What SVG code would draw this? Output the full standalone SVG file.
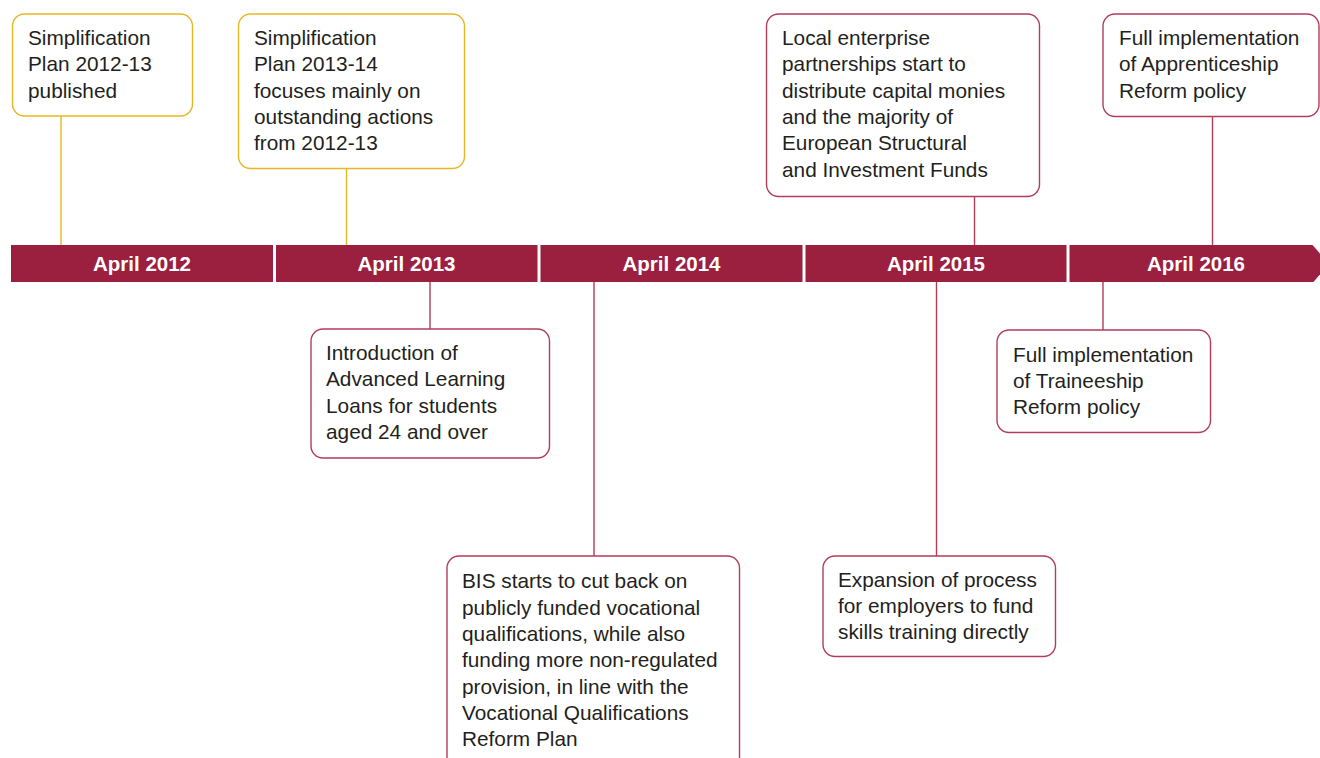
<svg xmlns="http://www.w3.org/2000/svg" width="1320" height="758" viewBox="0 0 1320 758">
<style>
.bg{fill:#ffffff}
.bar{fill:#9b2040}
.lbl{font-family:"Liberation Sans",Arial,sans-serif;font-weight:bold;font-size:20.5px;fill:#ffffff;text-anchor:middle}
.t{font-family:"Liberation Sans",Arial,sans-serif;font-size:20.8px;fill:#231f20}
.by{fill:#ffffff;stroke:#e6b823;stroke-width:1.4}
.br{fill:#ffffff;stroke:#b23d5a;stroke-width:1.4}
.cy{stroke:#e6b823;stroke-width:1.4;fill:none}
.cr{stroke:#b23d5a;stroke-width:1.4;fill:none}
</style>
<rect class="bg" x="0" y="0" width="1320" height="758"/>
<g id="connectors">
<line class="cy" x1="61" y1="116" x2="61" y2="245"/>
<line class="cy" x1="346.5" y1="168.5" x2="346.5" y2="245"/>
<line class="cr" x1="430" y1="282" x2="430" y2="329"/>
<line class="cr" x1="594" y1="282" x2="594" y2="556"/>
<line class="cr" x1="974.5" y1="196.5" x2="974.5" y2="245"/>
<line class="cr" x1="936.5" y1="282" x2="936.5" y2="556"/>
<line class="cr" x1="1103" y1="282" x2="1103" y2="330"/>
<line class="cr" x1="1212.5" y1="116.5" x2="1212.5" y2="245"/>
</g>
<g id="timeline">
<rect class="bar" x="11" y="245" width="262" height="37"/>
<rect class="bar" x="276" y="245" width="261.5" height="37"/>
<rect class="bar" x="540.5" y="245" width="262" height="37"/>
<rect class="bar" x="805.5" y="245" width="261" height="37"/>
<polygon class="bar" points="1069.5,245 1312.5,245 1329,263.5 1313.5,282 1069.5,282"/>
<text class="lbl" x="142" y="271">April 2012</text>
<text class="lbl" x="406.5" y="271">April 2013</text>
<text class="lbl" x="671.5" y="271">April 2014</text>
<text class="lbl" x="936" y="271">April 2015</text>
<text class="lbl" x="1196" y="271">April 2016</text>
</g>
<g id="n2012">
<rect class="by" x="12.5" y="14" width="180" height="102" rx="12"/>
<text class="t"><tspan x="28" y="45">Simplification</tspan><tspan x="28" y="71.3">Plan 2012-13</tspan><tspan x="28" y="97.6">published</tspan></text>
</g>
<g id="n2013">
<rect class="by" x="238.5" y="14" width="226" height="154.5" rx="12"/>
<text class="t"><tspan x="254" y="45">Simplification</tspan><tspan x="254" y="71.3">Plan 2013-14</tspan><tspan x="254" y="97.6">focuses mainly on</tspan><tspan x="254" y="123.9">outstanding actions</tspan><tspan x="254" y="150.2">from 2012-13</tspan></text>
</g>
<g id="nloans">
<rect class="br" x="311" y="329" width="238.5" height="129" rx="12"/>
<text class="t"><tspan x="326" y="360">Introduction of</tspan><tspan x="326" y="386.3">Advanced Learning</tspan><tspan x="326" y="412.6">Loans for students</tspan><tspan x="326" y="438.9">aged 24 and over</tspan></text>
</g>
<g id="nbis">
<rect class="br" x="447" y="556" width="292.5" height="220" rx="12"/>
<text class="t"><tspan x="462" y="588.3">BIS starts to cut back on</tspan><tspan x="462" y="614.6">publicly funded vocational</tspan><tspan x="462" y="640.9">qualifications, while also</tspan><tspan x="462" y="667.2">funding more non-regulated</tspan><tspan x="462" y="693.5">provision, in line with the</tspan><tspan x="462" y="719.8">Vocational Qualifications</tspan><tspan x="462" y="746.1">Reform Plan</tspan></text>
</g>
<g id="nlep">
<rect class="br" x="766.5" y="14" width="273" height="182.5" rx="12"/>
<text class="t"><tspan x="782" y="45">Local enterprise</tspan><tspan x="782" y="71.3">partnerships start to</tspan><tspan x="782" y="97.6">distribute capital monies</tspan><tspan x="782" y="123.9">and the majority of</tspan><tspan x="782" y="150.2">European Structural</tspan><tspan x="782" y="176.5">and Investment Funds</tspan></text>
</g>
<g id="nexpansion">
<rect class="br" x="823" y="556" width="232.5" height="100.5" rx="12"/>
<text class="t"><tspan x="838" y="586.7">Expansion of process</tspan><tspan x="838" y="613">for employers to fund</tspan><tspan x="838" y="639.3">skills training directly</tspan></text>
</g>
<g id="ntraineeship">
<rect class="br" x="997" y="330" width="213.5" height="102.5" rx="12"/>
<text class="t"><tspan x="1013" y="361.7">Full implementation</tspan><tspan x="1013" y="388">of Traineeship</tspan><tspan x="1013" y="414.3">Reform policy</tspan></text>
</g>
<g id="napprenticeship">
<rect class="br" x="1103" y="14" width="216" height="102.5" rx="12"/>
<text class="t"><tspan x="1119" y="45">Full implementation</tspan><tspan x="1119" y="71.3">of Apprenticeship</tspan><tspan x="1119" y="97.6">Reform policy</tspan></text>
</g>
</svg>
